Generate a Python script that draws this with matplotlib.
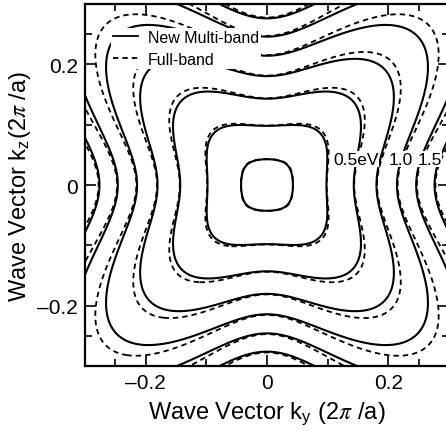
import numpy as np
import matplotlib
matplotlib.use('Agg')
import matplotlib.pyplot as plt
from matplotlib.lines import Line2D

plt.rcParams['font.family'] = 'Liberation Sans'
plt.rcParams['mathtext.fontset'] = 'stix'
plt.rcParams['axes.linewidth'] = 1.6

# contour energies (eV) and the labelled ones
levels = [0.05, 0.25, 0.5, 0.75, 1.0, 1.25, 1.5, 1.75, 2.0]
label_text = ['0.5eV', '1.0', '1.5']
label_ky = [0.147, 0.221, 0.268]
label_kz = [0.043, 0.043, 0.043]

# band model parameters: eps*(1+alpha*eps) = gamma*rho^2,
# k = rho * S(theta)**(q0 + warp*rho), S = rounded-square radius (power p)
gamma = 27.8
alpha = 0.276
p_sq = 4.0
q0 = 0.0
warp_multi = 13.2     # new multi-band
warp_full = 15.0      # full-band
scale_full = 1.005

ticks = [-0.2, 0, 0.2]
tick_labels = ['\u20130.2', '0', '0.2']
minor = [-0.25, -0.1, 0.1, 0.25]


def band_energy(ky, kz, warp, scale=1.0):
    k = np.hypot(ky, kz) / scale
    th = np.arctan2(kz, ky)
    S = (np.abs(np.cos(th))**p_sq + np.abs(np.sin(th))**p_sq)**(-1.0/p_sq)
    lo = np.zeros_like(k)
    hi = k.copy()
    for _ in range(60):
        mid = 0.5*(lo + hi)
        f = mid * S**(q0 + warp*mid) - k
        hi = np.where(f > 0, mid, hi)
        lo = np.where(f > 0, lo, mid)
    rho = 0.5*(lo + hi)
    return (-1 + np.sqrt(1 + 4*alpha*gamma*rho**2)) / (2*alpha)


g = np.linspace(-0.32, 0.32, 641)
KY, KZ = np.meshgrid(g, g)
E_multi = band_energy(KY, KZ, warp_multi)
E_full = band_energy(KY, KZ, warp_full, scale_full)

fig = plt.figure(figsize=(4.46, 4.31), dpi=100)
ax = fig.add_axes([85/446, 64/431, 364/446, 362/431])

ax.contour(KY, KZ, E_full, levels=levels, colors='k', linewidths=1.3,
           linestyles=[(0, (3.0, 2.2))])
ax.contour(KY, KZ, E_multi, levels=levels, colors='k', linewidths=1.5,
           linestyles='solid')

for t, x, y in zip(label_text, label_ky, label_kz):
    ax.text(x, y, t, fontsize=12.5, ha='center', va='center', zorder=5,
            bbox=dict(facecolor='white', edgecolor='none', pad=0.3))

ax.set_xlim(-0.3, 0.3)
ax.set_ylim(-0.3, 0.3)
ax.set_xticks(ticks)
ax.set_xticklabels(tick_labels)
ax.set_yticks(ticks)
ax.set_yticklabels(tick_labels)
ax.set_xticks(minor, minor=True)
ax.set_yticks(minor, minor=True)
ax.tick_params(which='both', direction='in', top=True, right=True,
               labelsize=15, width=1.2)
ax.tick_params(which='major', length=8, pad=5)
ax.tick_params(which='minor', length=5)

ax.set_xlabel('Wave Vector k$_\\mathregular{y}$ (2$\\pi$ /a)', fontsize=17, labelpad=5)
ax.set_ylabel('Wave Vector k$_\\mathregular{z}$(2$\\pi$ /a)', fontsize=17, labelpad=3)

handles = [Line2D([], [], color='k', lw=1.3, ls='solid'),
           Line2D([], [], color='k', lw=1.3, ls=(0, (3.0, 2.2)))]
leg = ax.legend(handles, ['New Multi-band', 'Full-band'], loc='upper left',
                bbox_to_anchor=(0.05, 0.955), fontsize=11.5, handlelength=1.6,
                handletextpad=0.6, borderpad=0.1, labelspacing=0.45,
                frameon=True, fancybox=False, framealpha=1, edgecolor='none')
leg.set_zorder(6)

fig.savefig('out.png', dpi=100)
